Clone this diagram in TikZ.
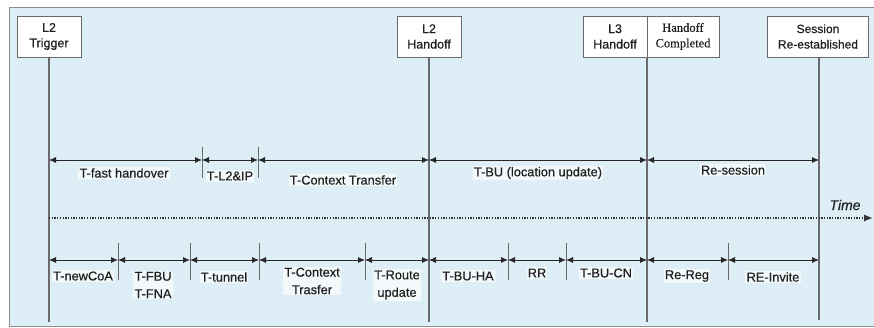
\documentclass[tikz,border=0pt]{standalone}
\usepackage{fontspec}
\setmainfont{Liberation Sans}
\newfontfamily\labfont{Liberation Sans}[FakeBold=0.6]
\newfontfamily\serifbox{Liberation Serif}[FakeBold=0.3]
\newfontfamily\timefont{Liberation Sans Italic}[FakeBold=0.4]
\usetikzlibrary{arrows.meta}
\definecolor{bgblue}{HTML}{DDEEF6}
\definecolor{framegray}{HTML}{8C8C8C}
\definecolor{linegray}{HTML}{6A6A6A}
\definecolor{txt}{HTML}{202020}
\begin{document}
\begin{tikzpicture}[x=1pt,y=-1pt,
  evbox/.style={draw=linegray,line width=0.9pt,fill=white,minimum height=41pt,inner sep=1pt,
     align=center,font=\labfont\fontsize{12.5}{15.5}\selectfont,text=txt},
  vline/.style={draw=linegray,line width=1.1pt},
  tick/.style={draw=linegray,line width=0.9pt},
  span/.style={draw=black!85,line width=0.8pt,{Latex[length=7pt,width=6pt]}-{Latex[length=7pt,width=6pt]}},
  lab/.style={fill=white,fill opacity=0.65,text opacity=1,inner sep=1.2pt,text=txt,
     font=\labfont\fontsize{12.8}{17.5}\selectfont,align=center}]
\useasboundingbox (0,0) rectangle (874,328);
% background frame
\fill[bgblue] (9,7) rectangle (874,326);
\draw[framegray,line width=0.9pt] (880,7) -- (9,7) -- (9,326) -- (880,326);

% event boxes
\node[evbox,minimum width=64pt] (trig) at (49,36.5) {L2\\Trigger};
\node[evbox,minimum width=64pt] (l2h) at (429,36.5) {L2\\Handoff};
\node[evbox,minimum width=64pt] (l3h) at (615,36.5) {L3\\Handoff};
\node[evbox,minimum width=72pt,font=\serifbox\fontsize{12.5}{15.5}\selectfont] (hc) at (683,36.5) {Handoff\\Completed};
\node[evbox,minimum width=101pt,font=\labfont\fontsize{12}{15.5}\selectfont] (sess) at (818,36.5) {Session\\Re-established};

% bottom ends of main vertical lines
\coordinate (b0) at (49,322);
\coordinate (b1) at (429,322);
\coordinate (b2) at (647,322);
\coordinate (b3) at (819,320);
\coordinate (t2) at (647,57);
\coordinate (t3) at (819,57);
\draw[vline] (trig.south) -- (b0);
\draw[vline] (l2h.south) -- (b1);
\draw[vline] (t2) -- (b2);
\draw[vline] (t3) -- (b3);

% upper row
\foreach \n/\x in {u0/49,u1/202,u2/258,u3/429,u4/647,u5/819}
  \coordinate (\n) at (\x,160);
\foreach \x in {202,258} \draw[tick] (\x,147) -- (\x,178);
\draw[span] (u0) -- (u1);
\draw[span] (u1) -- (u2);
\draw[span] (u2) -- (u3);
\draw[span] (u3) -- (u4);
\draw[span] (u4) -- (u5);
\node[lab] (a1) at (124,173) {T-fast handover};
\node[lab] (a2) at (230,176) {T-L2\&IP};
\node[lab] (a3) at (343,180) {T-Context Transfer};
\node[lab] (a4) at (538,173) {T-BU (location update)};
\node[lab] (a5) at (733,170) {Re-session};

% time axis
\coordinate (ts) at (49,218);
\coordinate (te) at (873,218);
\draw[black!80,line width=1.3pt,dash pattern=on 1.3pt off 1.4pt,-{Latex[length=9pt,width=7pt]}] (ts) -- (te);
\node[text=txt,font=\timefont\fontsize{14}{16}\selectfont] (time) at (845,205) {Time};

% lower row
\foreach \n/\x in {l0/49,l1/118,l2/190,l3/259,l4/365,l5/429,l6/508,l7/566,l8/647,l9/728,l10/819}
  \coordinate (\n) at (\x,260);
\foreach \x in {118,190,259,365,508,566,728} \draw[tick] (\x,243) -- (\x,280);
\draw[span] (l0) -- (l1);
\draw[span] (l1) -- (l2);
\draw[span] (l2) -- (l3);
\draw[span] (l3) -- (l4);
\draw[span] (l4) -- (l5);
\draw[span] (l5) -- (l6);
\draw[span] (l6) -- (l7);
\draw[span] (l7) -- (l8);
\draw[span] (l8) -- (l9);
\draw[span] (l9) -- (l10);
\node[lab] (c1) at (83,276) {T-newCoA};
\node[lab] (c2) at (153,285) {T-FBU\\T-FNA};
\node[lab] (c3) at (224,277) {T-tunnel};
\node[lab] (c4) at (312,281) {T-Context\\Trasfer};
\node[lab] (c5) at (397,285) {T-Route\\update};
\node[lab] (c6) at (468,276) {T-BU-HA};
\node[lab] (c7) at (537,273) {RR};
\node[lab] (c8) at (606,273) {T-BU-CN};
\node[lab] (c9) at (687,276) {Re-Reg};
\node[lab] (c10) at (773,277) {RE-Invite};
\end{tikzpicture}
\end{document}
